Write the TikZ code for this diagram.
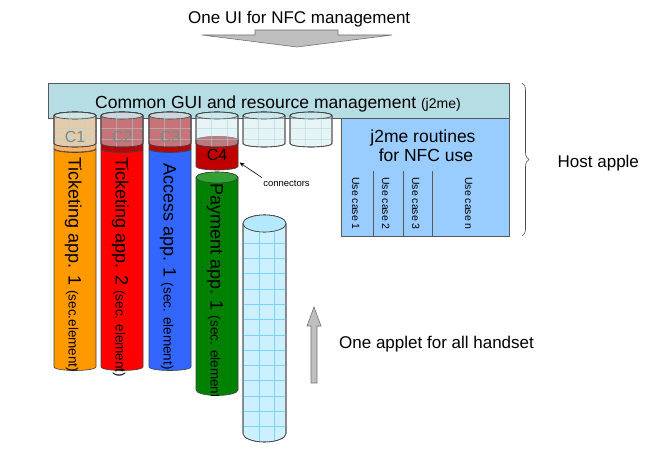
\documentclass[tikz,border=0pt]{standalone}
\usepackage{fontspec}
\setmainfont{Liberation Sans}
\usetikzlibrary{decorations.pathreplacing,arrows.meta}
\definecolor{guifill}{RGB}{183,221,228}
\definecolor{j2fill}{RGB}{153,204,255}
\definecolor{ovfill}{RGB}{205,233,238}
\definecolor{ovgrid}{RGB}{165,212,220}
\definecolor{orng}{RGB}{255,153,0}
\definecolor{orngtop}{RGB}{255,178,60}
\definecolor{conone}{RGB}{250,175,105}
\definecolor{dred}{RGB}{192,0,0}
\definecolor{redf}{RGB}{255,0,0}
\definecolor{bluef}{RGB}{51,102,255}
\definecolor{grn}{RGB}{0,128,0}
\definecolor{grntop}{RGB}{51,160,51}
\definecolor{cyanf}{RGB}{204,240,255}
\definecolor{cyantop}{RGB}{180,232,252}
\definecolor{cyangrid}{RGB}{120,212,245}
\definecolor{arrgrey}{RGB}{191,191,191}
\definecolor{cgrey}{RGB}{120,138,142}

\newcommand{\setcyl}[5]{%
  \def\zcxl{#1}\def\zcxr{#2}\def\zcyt{#3}\def\zcyb{#4}\def\zcry{#5}%
  \pgfmathsetmacro\zccx{(#1+#2)/2}%
  \pgfmathsetmacro\zcrx{(#2-#1)/2}%
  \pgfmathsetmacro\zckx{0.5523*(#2-#1)/2}%
  \pgfmathsetmacro\zcky{0.5523*#5}%
}
\newcommand{\cylpath}{(\zcxl,\zcyt) -- (\zcxl,\zcyb)
  .. controls (\zcxl,{\zcyb+\zcky}) and ({\zccx-\zckx},{\zcyb+\zcry}) .. (\zccx,{\zcyb+\zcry})
  .. controls ({\zccx+\zckx},{\zcyb+\zcry}) and (\zcxr,{\zcyb+\zcky}) .. (\zcxr,\zcyb)
  -- (\zcxr,\zcyt)
  .. controls (\zcxr,{\zcyt-\zcky}) and ({\zccx+\zckx},{\zcyt-\zcry}) .. (\zccx,{\zcyt-\zcry})
  .. controls ({\zccx-\zckx},{\zcyt-\zcry}) and (\zcxl,{\zcyt-\zcky}) .. (\zcxl,\zcyt) -- cycle}
\newcommand{\cyltop}{(\zccx,\zcyt) ellipse [x radius=\zcrx pt, y radius=\zcry pt]}
\newcommand{\drawcyl}[7]{\setcyl{#3}{#4}{#5}{#6}{#7}\path[#1] \cylpath; \path[#2] \cyltop;}
\newcommand{\cylgrid}[3]{%
  \begin{scope}
    \clip \cylpath;
    \foreach \gx in {#2} {\draw[#1] (\gx,{\zcyt-20}) -- (\gx,{\zcyb+20});}
    \foreach \gy in {#3} {\draw[#1] (\zcxl,\gy) -- (\zcxr,\gy);}
  \end{scope}}

\tikzset{
  outl/.style={draw=black!75, line width=0.6pt},
  boxstyle/.style={draw=black!65, line width=0.6pt},
  ovbody/.style={outl, fill=ovfill, fill opacity=0.5},
  ovtop/.style={outl, fill=ovfill, fill opacity=0.85},
  ovline/.style={ovgrid, line width=0.5pt, opacity=0.5},
  cyline/.style={cyangrid, line width=0.5pt},
  apptxt/.style={rotate=-90, anchor=base west, inner sep=0pt},
  usetxt/.style={rotate=-90, anchor=base west, inner sep=0pt, font=\fontsize{10.5}{12}\selectfont},
  ctxt/.style={inner sep=0pt, font=\fontsize{16}{18}\selectfont},
  lbl/.style={inner sep=0pt, font=\fontsize{17}{20}\selectfont},
  blockarrow/.style={fill=arrgrey, draw=black!55, line width=0.6pt},
}

\begin{document}
\begin{tikzpicture}[x=1pt,y=-1pt]
\useasboundingbox (0,0) rectangle (659,452);

% title and down arrow
\node[lbl, anchor=base west] (title) at (188,23.5) {One UI for NFC management};
\draw[blockarrow] (255,30) -- (338,30) -- (338,35) -- (392,35) -- (297,47) -- (202,35) -- (255,35) -- cycle;

% common GUI bar
\path[boxstyle, fill=guifill] (48,83) rectangle (509,118);
\node[inner sep=0pt, anchor=base west] (gui) at (95,108) {\fontsize{17.5}{20}\selectfont Common GUI and resource management \fontsize{14}{16}\selectfont(j2me)};

% j2me routines box
\path[boxstyle, fill=j2fill] (341,118) rectangle (509,236);
\node[lbl, anchor=base] (j2a) at (423,142.7) {\fontsize{17.5}{20}\selectfont j2me routines};
\node[lbl, anchor=base] (j2b) at (426,161) {\fontsize{17.5}{20}\selectfont for NFC use};
\draw[boxstyle] (373,171) -- (373,236);
\draw[boxstyle] (403,171) -- (403,236);
\draw[boxstyle] (432,171) -- (432,236);
\node[usetxt] (uc1) at (352,177) {Use case 1};
\node[usetxt] (uc2) at (382,177) {Use case 2};
\node[usetxt] (uc3) at (412,177) {Use case 3};
\node[usetxt] (ucn) at (465,177) {Use case n};

% brace and host label
\draw[black!70, line width=0.6pt, decorate, decoration={brace, amplitude=7pt}] (522,83) -- (522,236);
\node[lbl, anchor=base west] (host) at (557.5,167) {Host apple};

% application cylinders
\drawcyl{outl, fill=orng}{outl, fill=orngtop}{54}{96}{149}{367}{3.5}
\drawcyl{outl, fill=redf}{outl, fill=redf}{101}{143}{149}{367}{3.5}
\drawcyl{outl, fill=bluef}{outl, fill=bluef}{149}{191}{149}{367}{3.5}

% connectors
\drawcyl{outl, fill=conone}{outl, fill=conone}{54}{96}{115.5}{148.5}{3.5}
\drawcyl{outl, fill=dred}{outl, fill=dred}{101}{143}{115.5}{148.5}{3.5}
\drawcyl{outl, fill=dred}{outl, fill=dred}{149}{191}{115.5}{148.5}{3.5}
\drawcyl{outl, fill=dred}{outl, fill=dred}{196}{238}{140}{166.5}{3.5}

% transparent slots
\foreach \xl in {54,101,149,196,243,290} {
  \pgfmathsetmacro\xr{\xl+42}
  \drawcyl{ovbody}{ovtop}{\xl}{\xr}{115.5}{143.5}{3.5}
  \pgfmathsetmacro\gxa{\xl+15}
  \pgfmathsetmacro\gxb{\xl+31}
  \cylgrid{ovline}{\gxa,\gxb}{128,139}
  \setcyl{\xl}{\xr}{115.5}{143.5}{3.5}
  \path[outl] \cylpath;
}
\node[ctxt, text=cgrey] (c1) at (75,137) {C1};
\node[ctxt, text=cgrey] (c2) at (122,137) {C2};
\node[ctxt, text=cgrey] (c3) at (170,137) {C3};
\node[ctxt] (c4) at (217,155) {C4};

% application labels
\node[apptxt] (t1) at (68.5,157) {\fontsize{18}{21}\selectfont Ticketing app. 1 \fontsize{13.5}{16}\selectfont(sec.element)};
\node[apptxt] (t2) at (115.5,157) {\fontsize{18}{21}\selectfont Ticketing app. 2 \fontsize{13.5}{16}\selectfont(sec. element)};
\node[apptxt] (t3) at (163.5,163) {\fontsize{18}{21}\selectfont Access app. 1 \fontsize{13.5}{16}\selectfont(sec. element)};

% payment cylinder
\drawcyl{outl, fill=grn}{outl, fill=grntop}{196}{238}{177.5}{390}{5.5}
\begin{scope}
  \setcyl{196}{238}{177.5}{390}{5.5}
  \clip \cylpath;
  \node[apptxt] (t4) at (210.5,183) {\fontsize{18}{21}\selectfont Payment app. 1 \fontsize{13.5}{16}\selectfont(sec. element)};
\end{scope}

% connectors label
\node[inner sep=0pt, font=\fontsize{9.5}{11}\selectfont] (conn) at (286.5,183) {connectors};
\coordinate (c4pt) at (239.5,162.5);
\draw[-{Stealth[length=5pt,width=4pt]}, line width=0.6pt] ([xshift=-1pt,yshift=2pt]conn.north west) -- (c4pt);

% universal applet cylinder
\drawcyl{outl, fill=cyanf}{outl, fill=cyantop}{243}{286}{223.5}{433.5}{8.5}
\cylgrid{cyline}{259,274}{243,258.3,273.6,288.9,304.2,319.5,334.8,350.1,365.4,380.7,396,411.3,426.6}
\setcyl{243}{286}{223.5}{433.5}{8.5}
\path[outl] \cylpath;
\path[outl, fill=cyantop] \cyltop;

% up arrow and label
\draw[blockarrow] (311,383) -- (311,326) -- (307,326) -- (314,307) -- (321,326) -- (317,326) -- (317,383) -- cycle;
\node[lbl, anchor=base west] (applet) at (339,348.3) {One applet for all handset};
\end{tikzpicture}
\end{document}
